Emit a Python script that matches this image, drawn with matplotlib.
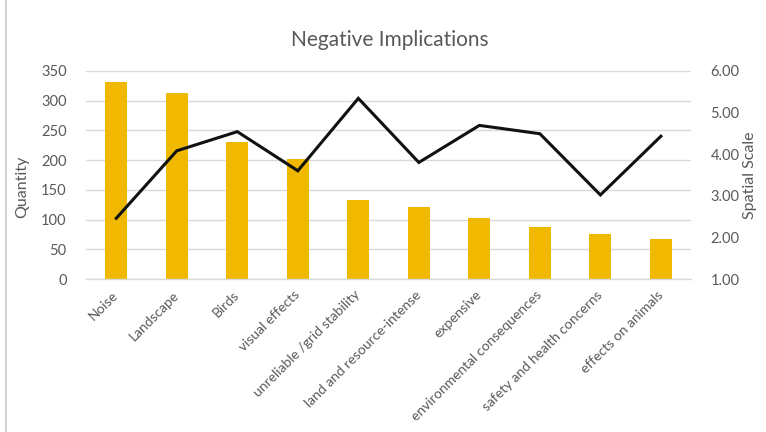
import matplotlib
matplotlib.use("Agg")
import matplotlib.pyplot as plt
from matplotlib.lines import Line2D

categories = ["Noise", "Landscape", "Birds", "visual effects", "unreliable /grid stability",
              "land and resource-intense", "expensive", "environmental consequences",
              "safety and health concerns", "effects on animals"]
quantity = [332, 313, 231, 201, 133, 121, 102, 88, 75, 68]
spatial_scale = [2.46, 4.08, 4.54, 3.60, 5.34, 3.80, 4.69, 4.49, 3.02, 4.43]
left_ticks = [0, 50, 100, 150, 200, 250, 300, 350]
right_ticks = [1, 2, 3, 4, 5, 6]

plt.rcParams['font.family'] = ['Lato', 'DejaVu Sans']
text_color = '#595959'
grid_color = '#d9d9d9'

fig = plt.figure(figsize=(7.66, 4.32), dpi=100)
ax = fig.add_axes([0.1123, 0.354, 0.790, 0.482])
ax2 = ax.twinx()

x = list(range(len(categories)))
ax.bar(x, quantity, width=0.36, color='#F0B800', zorder=2)
ax.set_xlim(-0.5, len(categories) - 0.5)
ax.set_ylim(0, 350)
ax.set_yticks(left_ticks)
ax.set_yticklabels([str(t) for t in left_ticks])
ax.yaxis.grid(True, color=grid_color, linewidth=1.0, zorder=0)
ax.set_axisbelow(True)

ax2.plot(x, spatial_scale, color='#111111', linewidth=2.2, solid_joinstyle='miter', zorder=3)
ax2.set_ylim(1, 6)
ax2.set_yticks(right_ticks)
ax2.set_yticklabels([f"{t:.2f}" for t in right_ticks])

for a in (ax, ax2):
    for s in a.spines.values():
        s.set_visible(False)
    a.tick_params(axis='both', length=0, colors=text_color, labelsize=10.5)
ax.spines['bottom'].set_visible(True)
ax.spines['bottom'].set_color(grid_color)
ax.spines['bottom'].set_linewidth(1.0)

ax.set_xticks(x)
ax.set_xticklabels(categories, rotation=45, ha='right', va='center', rotation_mode='anchor',
                   color=text_color, fontsize=10)
ax.tick_params(axis='x', pad=10)
ax.tick_params(axis='y', pad=14)
ax2.tick_params(axis='y', pad=14)

ax.set_ylabel("Quantity", color=text_color, fontsize=11.5)
ax.yaxis.set_label_coords(-0.094, 0.445)
ax2.set_ylabel("Spatial Scale", color=text_color, fontsize=11.5, labelpad=2)

fig.text(0.509, 0.907, "Negative Implications", ha='center', va='center',
         color=text_color, fontsize=15)

fig.add_artist(Line2D([0.0075, 0.0075], [0, 1], transform=fig.transFigure,
                      color='#c8c8c8', linewidth=1.2))

fig.savefig("out.png", dpi=100)
